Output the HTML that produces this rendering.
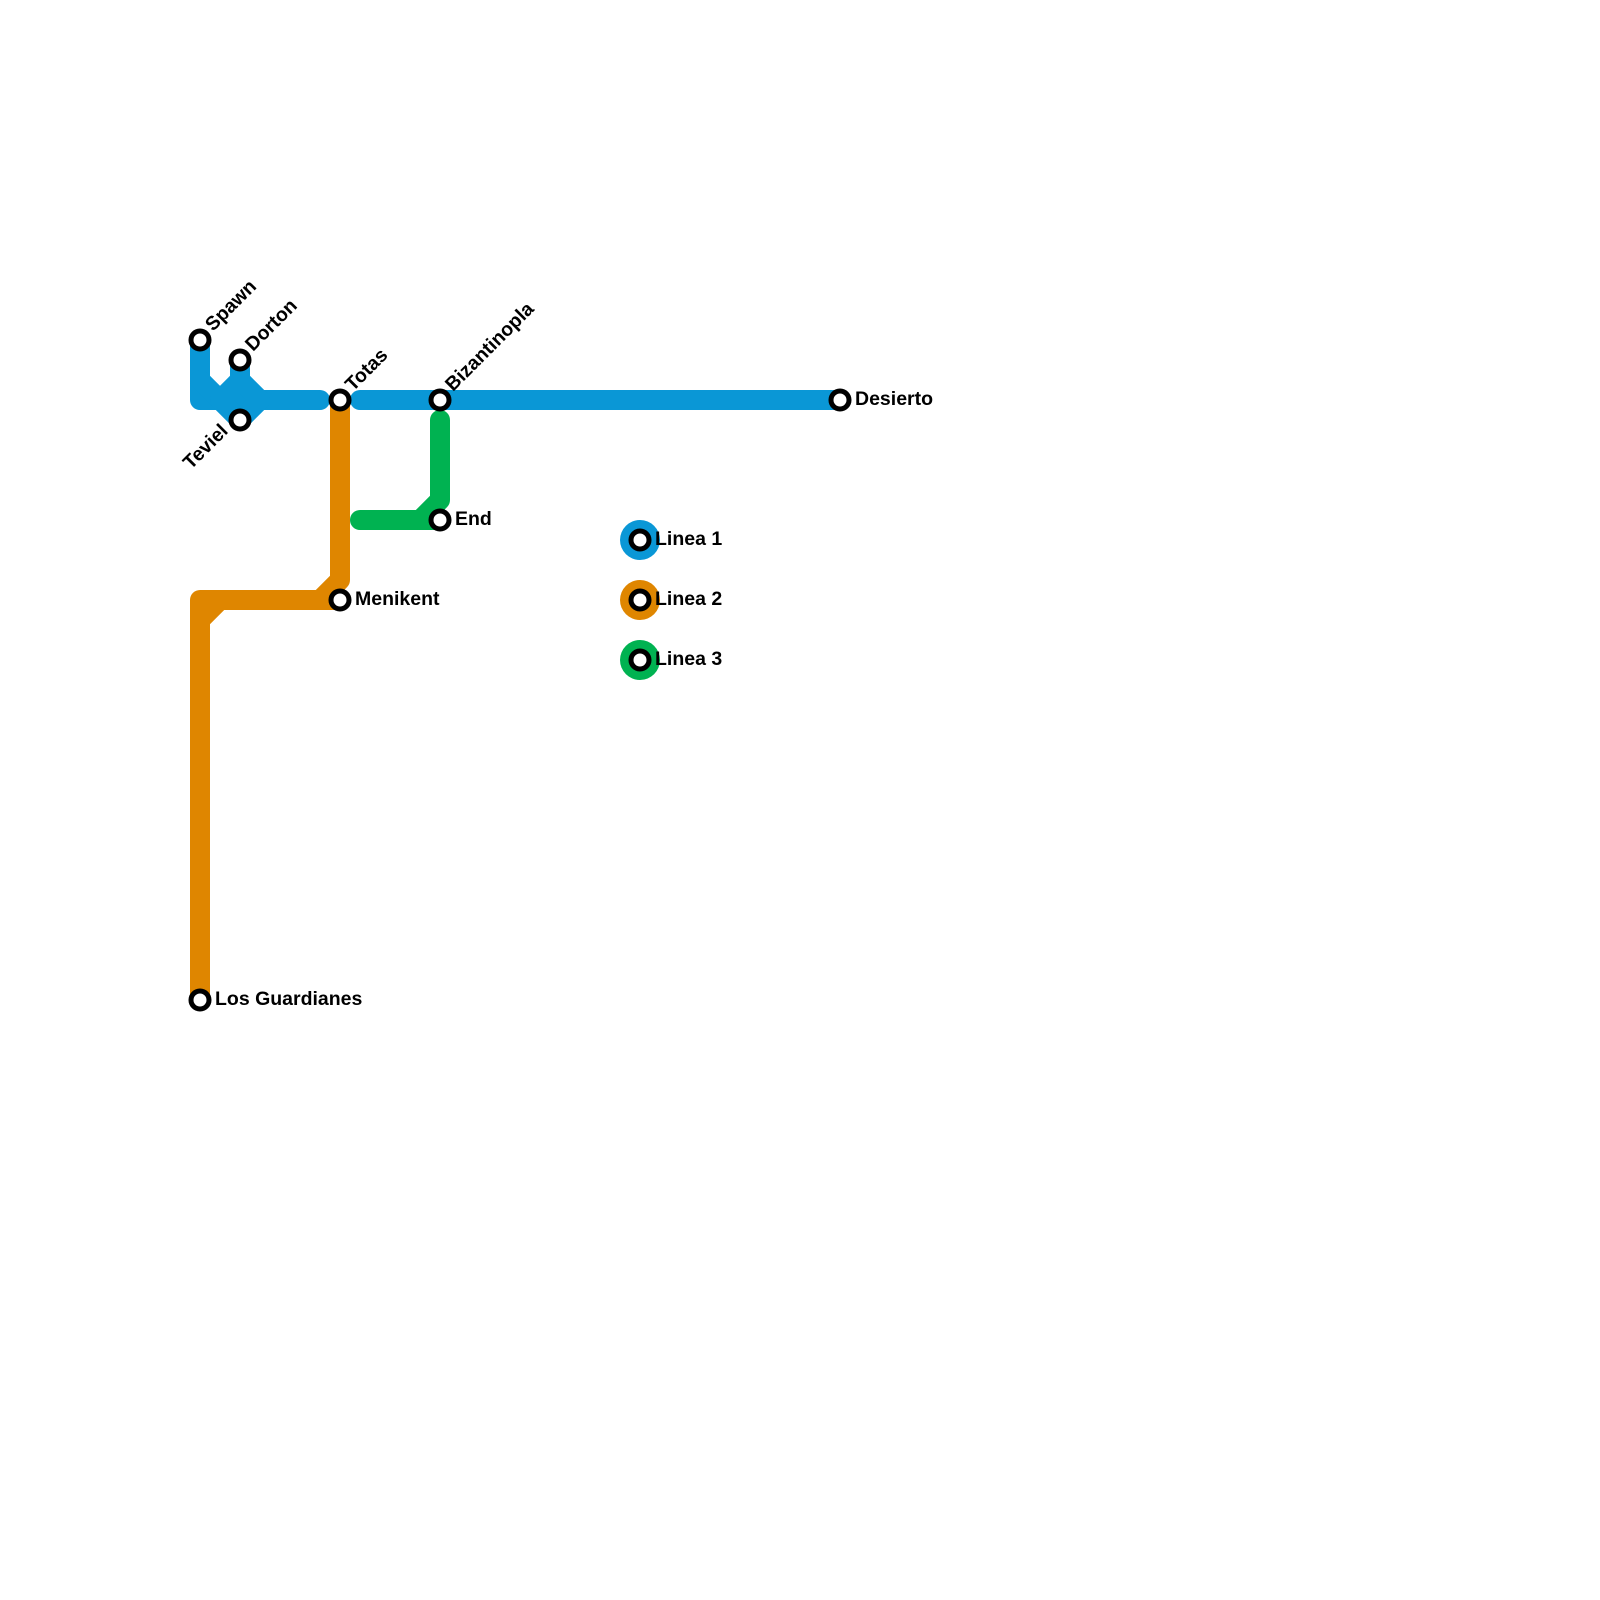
<!DOCTYPE html>
<html><head><style>body{margin:0;background:#fff}svg{display:block}text{font-family:"Liberation Sans",sans-serif;font-weight:bold;font-size:19.5px;fill:#000}</style></head>
<body>
<svg width="1600" height="1600" viewBox="0 0 1600 1600">
<g fill="none" stroke-linecap="round" stroke-linejoin="round" stroke-width="20">
<g stroke="#0a97d6">
<polyline points="200,340 200,400 320,400"/>
<polyline points="200,380 220,400 240,420 260,400 240,380 240,360"/>
<polyline points="240,380 220,400"/>
<polyline points="360,400 840,400"/>
</g>
<g stroke="#df8600">
<polyline points="340,400 340,580 320,600 200,600 200,1000"/>
<polyline points="200,620 220,600"/>
<polyline points="320,600 340,600"/>
</g>
<g stroke="#00b251">
<polyline points="360,520 420,520 440,500 440,420"/>
<polyline points="420,520 440,520"/>
</g>
</g>
<circle cx="640" cy="540" r="20" fill="#0a97d6"/>
<circle cx="640" cy="600" r="20" fill="#df8600"/>
<circle cx="640" cy="660" r="20" fill="#00b251"/>
<g fill="#fff" stroke="#000" stroke-width="5">
<circle cx="200" cy="340" r="9"/><circle cx="240" cy="360" r="9"/><circle cx="240" cy="420" r="9"/>
<circle cx="340" cy="400" r="9"/><circle cx="440" cy="400" r="9"/><circle cx="840" cy="400" r="9"/>
<circle cx="440" cy="520" r="9"/><circle cx="340" cy="600" r="9"/><circle cx="200" cy="1000" r="9"/>
<circle cx="640" cy="540" r="9"/><circle cx="640" cy="600" r="9"/><circle cx="640" cy="660" r="9"/>
</g>
<text transform="translate(213,332) rotate(-45)">Spawn</text>
<text transform="translate(253,352) rotate(-45)">Dorton</text>
<text transform="translate(353,392) rotate(-45)">Totas</text>
<text transform="translate(453,392) rotate(-45)">Bizantinopla</text>
<text text-anchor="end" transform="translate(229,432) rotate(-45)">Teviel</text>
<text x="855" y="405">Desierto</text>
<text x="455" y="525">End</text>
<text x="355" y="605">Menikent</text>
<text x="215" y="1005">Los Guardianes</text>
<text x="655" y="545">Linea 1</text>
<text x="655" y="605">Linea 2</text>
<text x="655" y="665">Linea 3</text>
</svg>
</body></html>
